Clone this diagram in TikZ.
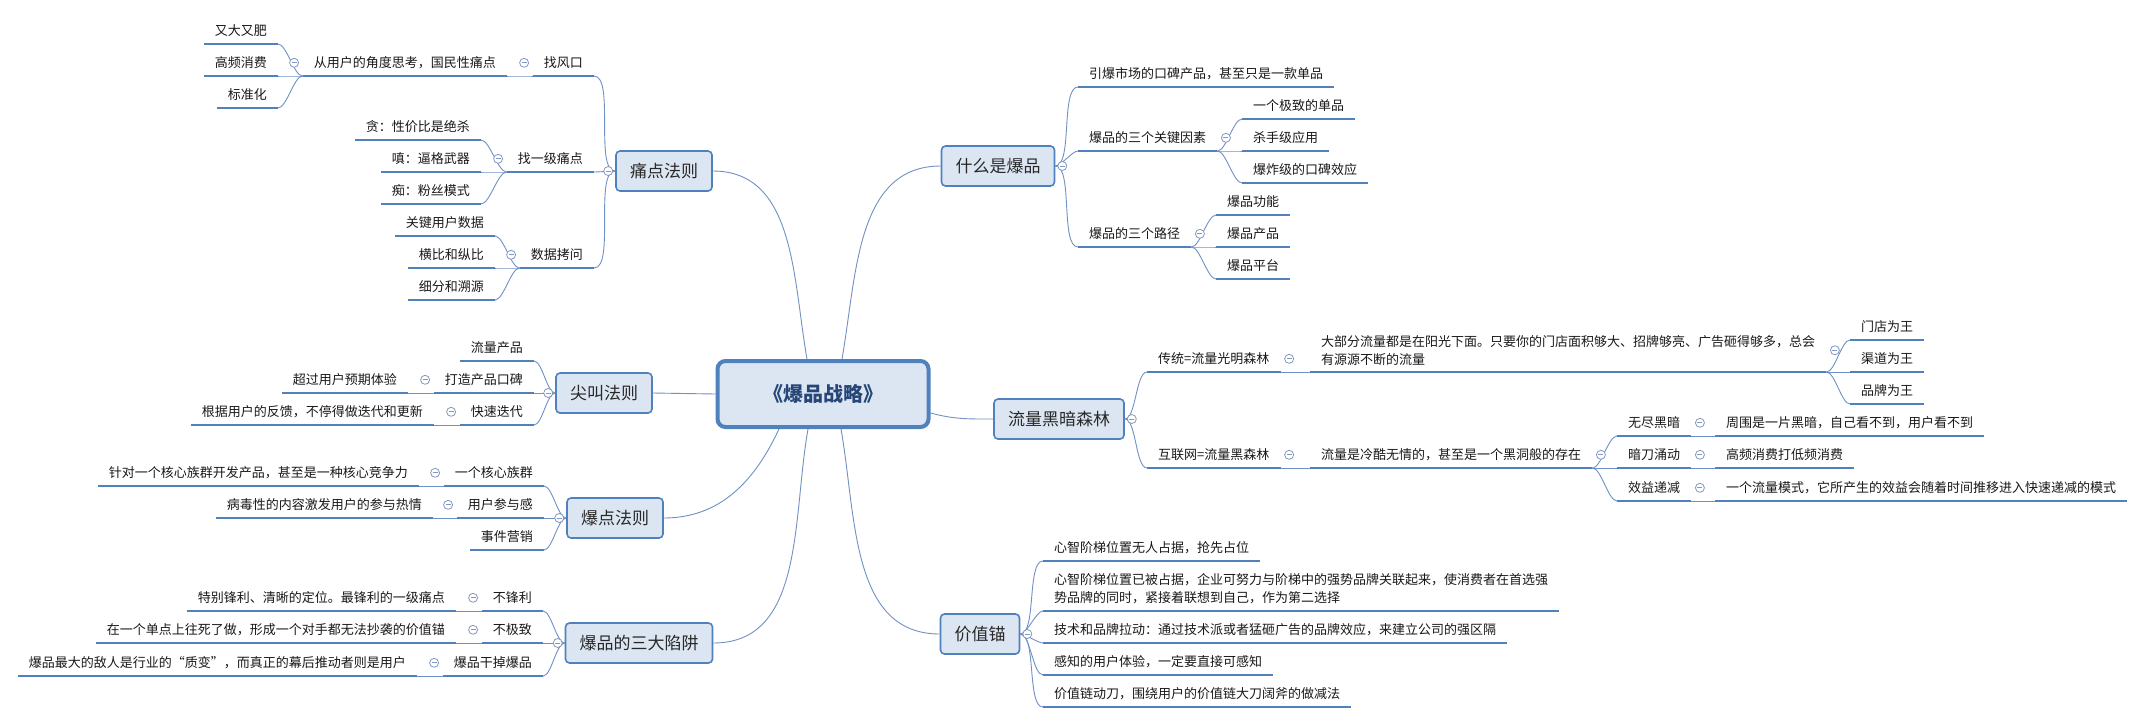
\documentclass[tikz,border=0pt]{standalone}
\usepackage{fontspec}
\setmainfont{Noto Sans CJK SC}
\usepackage{tikz}
\usepackage{xcolor}
\usetikzlibrary{calc}
\definecolor{mapblue}{RGB}{79,129,189}
\definecolor{lineblue}{RGB}{112,145,196}
\definecolor{topicfill}{RGB}{220,230,242}
\definecolor{foldgray}{RGB}{130,152,192}
\definecolor{roottext}{RGB}{38,70,120}
\definecolor{topictext}{RGB}{40,40,40}
\newcommand\leaffont{\fontsize{13}{18}\selectfont}
\newcommand\topicfont{\fontsize{17}{20}\selectfont}
\newcommand\rootfont{\fontsize{20}{24}\selectfont\bfseries}
\tikzset{
  topic/.style  ={rectangle, rounded corners=4pt, draw=mapblue, line width=1.6pt, fill=topicfill,
                  minimum height=40pt, inner xsep=14pt, font=\topicfont, text=topictext},
  root/.style   ={topic, rounded corners=8pt, line width=4pt, minimum width=211pt,
                  minimum height=66pt, font=\rootfont, text=roottext},
  uline/.style  ={draw=mapblue, line width=2.8pt},
  leafbase/.style={font=\leaffont, text=black!90, inner xsep=11pt,
                  append after command={(\tikzlastnode.south west) edge[uline] (\tikzlastnode.south east)}},
  leaf/.style   ={leafbase, inner ysep=4pt, text height=13.9pt, text depth=4.1pt},
  leaftwo/.style={leafbase, inner ysep=6.5pt, align=left},
  lnk/.style    ={draw=lineblue, line width=0.9pt},
  goleft/.style ={out=180, in=0, looseness=0.55},
  goright/.style={out=0, in=180, looseness=0.55},
  fold/.style   ={circle, draw=foldgray, fill=white, line width=0.8pt, minimum size=9pt, inner sep=0pt,
                  path picture={\draw[foldgray, line width=0.8pt]
                    ([xshift=-2.5pt]path picture bounding box.center) -- ([xshift=2.5pt]path picture bounding box.center);}},
}
\begin{document}
\begin{tikzpicture}[x=1pt, y=-1pt]
\path[use as bounding box, fill=white] (0,0) rectangle (2146,724);

\node[root] (root) at (823,394) {《爆品战略》};

\node[topic] (tongdian) at (664,171) {痛点法则};
\node[topic] (jianjiao) at (604,393) {尖叫法则};
\node[topic] (baodian)  at (615,518) {爆点法则};
\node[topic] (xianjing) at (639,643) {爆品的三大陷阱};
\node[topic] (shenme)   at (998,166) {什么是爆品};
\node[topic] (liuliang) at (1059,419) {流量黑暗森林};
\node[topic] (jiazhi)   at (980,634) {价值锚};

\node[leaf, anchor=south east] (fengkou)  at (594,76)  {找风口};
\node[leaf, anchor=south east] (fengkou1) at (507,76)  {从用户的角度思考，国民性痛点};
\node[leaf, anchor=south east] (fk1a)     at (278,44)  {又大又肥};
\node[leaf, anchor=south east] (fk1b)     at (278,76)  {高频消费};
\node[leaf, anchor=south east] (fk1c)     at (278,108) {标准化};
\node[leaf, anchor=south east] (yiji)     at (594,172) {找一级痛点};
\node[leaf, anchor=south east] (yijia)    at (481,140) {贪：性价比是绝杀};
\node[leaf, anchor=south east] (yijib)    at (481,172) {嗔：逼格武器};
\node[leaf, anchor=south east] (yijic)    at (481,204) {痴：粉丝模式};
\node[leaf, anchor=south east] (kaowen)   at (594,268) {数据拷问};
\node[leaf, anchor=south east] (kwa)      at (495,236) {关键用户数据};
\node[leaf, anchor=south east] (kwb)      at (495,268) {横比和纵比};
\node[leaf, anchor=south east] (kwc)      at (495,300) {细分和溯源};

\node[leaf, anchor=south east] (jj1)  at (534,361) {流量产品};
\node[leaf, anchor=south east] (jj2)  at (534,393) {打造产品口碑};
\node[leaf, anchor=south east] (jj2a) at (408,393) {超过用户预期体验};
\node[leaf, anchor=south east] (jj3)  at (534,425) {快速迭代};
\node[leaf, anchor=south east] (jj3a) at (434,425) {根据用户的反馈，不停得做迭代和更新};

\node[leaf, anchor=south east] (bd1)  at (544,486) {一个核心族群};
\node[leaf, anchor=south east] (bd1a) at (419,486) {针对一个核心族群开发产品，甚至是一种核心竞争力};
\node[leaf, anchor=south east] (bd2)  at (544,518) {用户参与感};
\node[leaf, anchor=south east] (bd2a) at (433,518) {病毒性的内容激发用户的参与热情};
\node[leaf, anchor=south east] (bd3)  at (544,550) {事件营销};

\node[leaf, anchor=south east] (xj1)  at (543,611) {不锋利};
\node[leaf, anchor=south east] (xj1a) at (456,611) {特别锋利、清晰的定位。最锋利的一级痛点};
\node[leaf, anchor=south east] (xj2)  at (543,643) {不极致};
\node[leaf, anchor=south east] (xj2a) at (456,643) {在一个单点上往死了做，形成一个对手都无法抄袭的价值锚};
\node[leaf, anchor=south east] (xj3)  at (543,676) {爆品干掉爆品};
\node[leaf, anchor=south east] (xj3a) at (417,676) {爆品最大的敌人是行业的“质变”，而真正的幕后推动者则是用户};

\node[leaf, anchor=south west] (sm1)  at (1078,87)  {引爆市场的口碑产品，甚至只是一款单品};
\node[leaf, anchor=south west] (sm2)  at (1078,151) {爆品的三个关键因素};
\node[leaf, anchor=south west] (sm2a) at (1242,119) {一个极致的单品};
\node[leaf, anchor=south west] (sm2b) at (1242,151) {杀手级应用};
\node[leaf, anchor=south west] (sm2c) at (1242,183) {爆炸级的口碑效应};
\node[leaf, anchor=south west] (sm3)  at (1078,247) {爆品的三个路径};
\node[leaf, anchor=south west] (sm3a) at (1216,215) {爆品功能};
\node[leaf, anchor=south west] (sm3b) at (1216,247) {爆品产品};
\node[leaf, anchor=south west] (sm3c) at (1216,279) {爆品平台};

\node[leaf, anchor=south west] (ll1)   at (1147,372) {传统=流量光明森林};
\node[leaftwo, anchor=south west] (ll1a) at (1310,372)
  {大部分流量都是在阳光下面。只要你的门店面积够大、招牌够亮、广告砸得够多，总会\\有源源不断的流量};
\node[leaf, anchor=south west] (ll1a1) at (1850,340) {门店为王};
\node[leaf, anchor=south west] (ll1a2) at (1850,372) {渠道为王};
\node[leaf, anchor=south west] (ll1a3) at (1850,404) {品牌为王};
\node[leaf, anchor=south west] (ll2)   at (1147,468) {互联网=流量黑森林};
\node[leaf, anchor=south west] (ll2a)  at (1310,468) {流量是冷酷无情的，甚至是一个黑洞般的存在};
\node[leaf, anchor=south west] (ll2a1) at (1617,436) {无尽黑暗};
\node[leaf, anchor=south west] (ll2b1) at (1715,436) {周围是一片黑暗，自己看不到，用户看不到};
\node[leaf, anchor=south west] (ll2a2) at (1617,468) {暗刀涌动};
\node[leaf, anchor=south west] (ll2b2) at (1715,468) {高频消费打低频消费};
\node[leaf, anchor=south west] (ll2a3) at (1617,501) {效益递减};
\node[leaf, anchor=south west] (ll2b3) at (1715,501) {一个流量模式，它所产生的效益会随着时间推移进入快速递减的模式};

\node[leaf, anchor=south west] (jz1) at (1043,561) {心智阶梯位置无人占据，抢先占位};
\node[leaftwo, anchor=south west] (jz2) at (1043,611)
  {心智阶梯位置已被占据，企业可努力与阶梯中的强势品牌关联起来，使消费者在首选强\\势品牌的同时，紧接着联想到自己，作为第二选择};
\node[leaf, anchor=south west] (jz3) at (1043,643) {技术和品牌拉动：通过技术派或者猛砸广告的品牌效应，来建立公司的强区隔};
\node[leaf, anchor=south west] (jz4) at (1043,675) {感知的用户体验，一定要直接可感知};
\node[leaf, anchor=south west] (jz5) at (1043,707) {价值链动刀，围绕用户的价值链大刀阔斧的做减法};

\draw[lnk] ([xshift=-16pt]root.north) to[out=100, in=0] (tongdian.east);
\draw[lnk] ([xshift=19pt]root.north) to[out=80, in=180] (shenme.west);
\draw[lnk] (root.west) -- (jianjiao.east);
\draw[lnk] ([yshift=-19pt]root.east) to[out=-15, in=180] (liuliang.west);
\draw[lnk] ([xshift=-44pt]root.south) to[out=-115, in=0] (baodian.east);
\draw[lnk] ([xshift=-15pt]root.south) to[out=-100, in=0] (xianjing.east);
\draw[lnk] ([xshift=18pt]root.south) to[out=-80, in=180] (jiazhi.west);

\foreach \c in {fengkou,yiji,kaowen} \draw[lnk] (tongdian.west) to[goleft] (\c.south east);
\draw[lnk] (fengkou.south west) to[goleft] (fengkou1.south east);
\foreach \c in {fk1a,fk1b,fk1c} \draw[lnk] (fengkou1.south west) to[goleft] (\c.south east);
\foreach \c in {yijia,yijib,yijic} \draw[lnk] (yiji.south west) to[goleft] (\c.south east);
\foreach \c in {kwa,kwb,kwc} \draw[lnk] (kaowen.south west) to[goleft] (\c.south east);
\foreach \c in {jj1,jj2,jj3} \draw[lnk] (jianjiao.west) to[goleft] (\c.south east);
\draw[lnk] (jj2.south west) to[goleft] (jj2a.south east);
\draw[lnk] (jj3.south west) to[goleft] (jj3a.south east);
\foreach \c in {bd1,bd2,bd3} \draw[lnk] (baodian.west) to[goleft] (\c.south east);
\draw[lnk] (bd1.south west) to[goleft] (bd1a.south east);
\draw[lnk] (bd2.south west) to[goleft] (bd2a.south east);
\foreach \c in {xj1,xj2,xj3} \draw[lnk] (xianjing.west) to[goleft] (\c.south east);
\draw[lnk] (xj1.south west) to[goleft] (xj1a.south east);
\draw[lnk] (xj2.south west) to[goleft] (xj2a.south east);
\draw[lnk] (xj3.south west) to[goleft] (xj3a.south east);

\foreach \c in {sm1,sm2,sm3} \draw[lnk] (shenme.east) to[goright] (\c.south west);
\foreach \c in {sm2a,sm2b,sm2c} \draw[lnk] (sm2.south east) to[goright] (\c.south west);
\foreach \c in {sm3a,sm3b,sm3c} \draw[lnk] (sm3.south east) to[goright] (\c.south west);
\foreach \c in {ll1,ll2} \draw[lnk] (liuliang.east) to[goright] (\c.south west);
\draw[lnk] (ll1.south east) to[goright] (ll1a.south west);
\foreach \c in {ll1a1,ll1a2,ll1a3} \draw[lnk] (ll1a.south east) to[goright] (\c.south west);
\draw[lnk] (ll2.south east) to[goright] (ll2a.south west);
\foreach \c in {ll2a1,ll2a2,ll2a3} \draw[lnk] (ll2a.south east) to[goright] (\c.south west);
\draw[lnk] (ll2a1.south east) to[goright] (ll2b1.south west);
\draw[lnk] (ll2a2.south east) to[goright] (ll2b2.south west);
\draw[lnk] (ll2a3.south east) to[goright] (ll2b3.south west);
\foreach \c in {jz1,jz2,jz3,jz4,jz5} \draw[lnk] (jiazhi.east) to[goright] (\c.south west);

\foreach \n in {tongdian,jianjiao,baodian,xianjing}
  \node[fold] (fold-\n) at ([xshift=-7pt]\n.west) {};
\foreach \n in {fengkou,fengkou1,yiji,kaowen,jj2,jj3,bd1,bd2,xj1,xj2,xj3}
  \node[fold] (fold-\n) at ([xshift=-8.5pt]\n.west) {};
\foreach \n in {shenme,liuliang,jiazhi}
  \node[fold] (fold-\n) at ([xshift=7pt]\n.east) {};
\foreach \n in {sm2,sm3,ll1,ll1a,ll2,ll2a,ll2a1,ll2a2,ll2a3}
  \node[fold] (fold-\n) at ([xshift=8.5pt]\n.east) {};
\end{tikzpicture}
\end{document}
